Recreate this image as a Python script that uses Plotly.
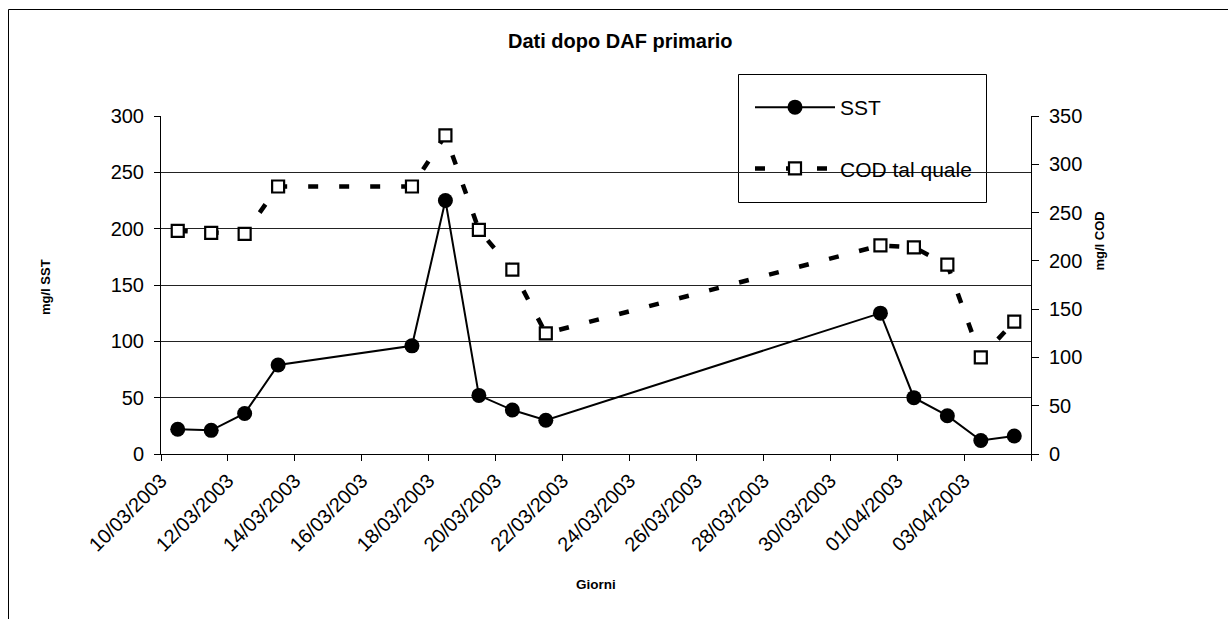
import plotly.graph_objects as go
import pandas as pd

# ---- data ----
dates = ["2003-03-10", "2003-03-11", "2003-03-12", "2003-03-13", "2003-03-17",
         "2003-03-18", "2003-03-19", "2003-03-20", "2003-03-21", "2003-03-31",
         "2003-04-01", "2003-04-02", "2003-04-03", "2003-04-04"]
sst = [22, 21, 36, 79, 96, 225, 52, 39, 30, 125, 50, 34, 12, 16]
cod = [231, 229, 228, 277, 277, 330, 232, 191, 125, 216, 214, 196, 100, 137]
tick_dates = pd.date_range("2003-03-10", "2003-04-05", freq="2D")
tick_labels = [d.strftime("%d/%m/%Y") if d < pd.Timestamp("2003-04-05") else "" for d in tick_dates]
x_range = ["2003-03-10", "2003-04-05"]
sst_range = [0, 300]
cod_range = [0, 350]

FONT = "Liberation Sans, Arial, sans-serif"
W, H = 1228, 619
ML, MR, MT, MB = 161, 197, 116, 165
PW, PH = W - ML - MR, H - MT - MB


def px(xp):
    return (xp - ML) / PW


def py(yp):
    return (H - MB - yp) / PH


fig = go.Figure()
fig.add_trace(go.Scatter(
    x=dates, y=sst, name="SST", mode="lines+markers",
    xperiod=86400000, xperiodalignment="middle",
    line=dict(color="black", width=2),
    marker=dict(symbol="circle", size=15, color="black"),
    legendgroup="a", yaxis="y"))
fig.add_trace(go.Scatter(
    x=dates, y=cod, name="COD tal quale", mode="lines+markers",
    xperiod=86400000, xperiodalignment="middle",
    line=dict(color="black", width=4.5, dash="10px,21px"),
    marker=dict(symbol="square", size=12, color="white",
                line=dict(color="black", width=2.2)),
    legendgroup="b", yaxis="y2"))

fig.update_layout(
    width=W, height=H,
    margin=dict(l=ML, r=MR, t=MT, b=MB, pad=0),
    paper_bgcolor="white", plot_bgcolor="white",
    font=dict(family=FONT, color="black", size=20),
    showlegend=True,
    xaxis=dict(type="date", range=x_range, tickvals=list(tick_dates), ticktext=tick_labels,
               tickangle=-45, ticks="outside", ticklen=6, tickcolor="black",
               showline=True, linecolor="black", linewidth=1, showgrid=False,
               zeroline=False, tickfont=dict(size=20, family=FONT)),
    yaxis=dict(range=sst_range, dtick=50, ticks="outside", ticklen=6, tickcolor="black",
               showline=True, linecolor="black", linewidth=1,
               showgrid=True, gridcolor="#222222", gridwidth=1, zeroline=False,
               ticklabelstandoff=6, tickfont=dict(size=20, family=FONT)),
    yaxis2=dict(range=cod_range, dtick=50, overlaying="y", side="right", anchor="x",
                ticks="outside", ticklen=7, tickcolor="black",
                showline=True, linecolor="black", linewidth=1, showgrid=False,
                zeroline=False, ticklabelstandoff=6, tickfont=dict(size=20, family=FONT)),
    yaxis3=dict(range=cod_range, dtick=50, overlaying="y", side="right", anchor="x",
                ticks="inside", ticklen=6, tickcolor="black", showticklabels=False,
                showline=False, showgrid=False, zeroline=False),
    legend=dict(x=px(750), y=py(87), xanchor="left", yanchor="top",
                bgcolor="rgba(0,0,0,0)", borderwidth=0,
                font=dict(size=21, family=FONT), itemwidth=80,
                traceorder="grouped", tracegroupgap=31),
    shapes=[
        dict(type="rect", xref="paper", yref="paper", x0=px(8.5), x1=px(1240),
             y0=py(630), y1=py(9.5), line=dict(color="black", width=1), layer="below"),
        dict(type="rect", xref="paper", yref="paper", x0=px(738.5), x1=px(986.5),
             y0=py(202.5), y1=py(74.5), line=dict(color="black", width=1),
             fillcolor="white", layer="between"),
    ],
    annotations=[
        dict(text="<b>Dati dopo DAF primario</b>", xref="paper", yref="paper",
             x=px(620), y=py(41), xanchor="center", yanchor="middle", showarrow=False,
             font=dict(size=20, family=FONT)),
        dict(text="<b>mg/l SST</b>", xref="paper", yref="paper", textangle=-90,
             x=px(45), y=py(287), xanchor="center", yanchor="middle", showarrow=False,
             font=dict(size=13, family=FONT)),
        dict(text="<b>mg/l COD</b>", xref="paper", yref="paper", textangle=-90,
             x=px(1099), y=py(241.5), xanchor="center", yanchor="middle", showarrow=False,
             font=dict(size=13, family=FONT)),
        dict(text="<b>Giorni</b>", xref="paper", yref="paper",
             x=px(596), y=py(584), xanchor="center", yanchor="middle", showarrow=False,
             font=dict(size=13.5, family=FONT)),
    ],
)

fig.write_html("out.html")
